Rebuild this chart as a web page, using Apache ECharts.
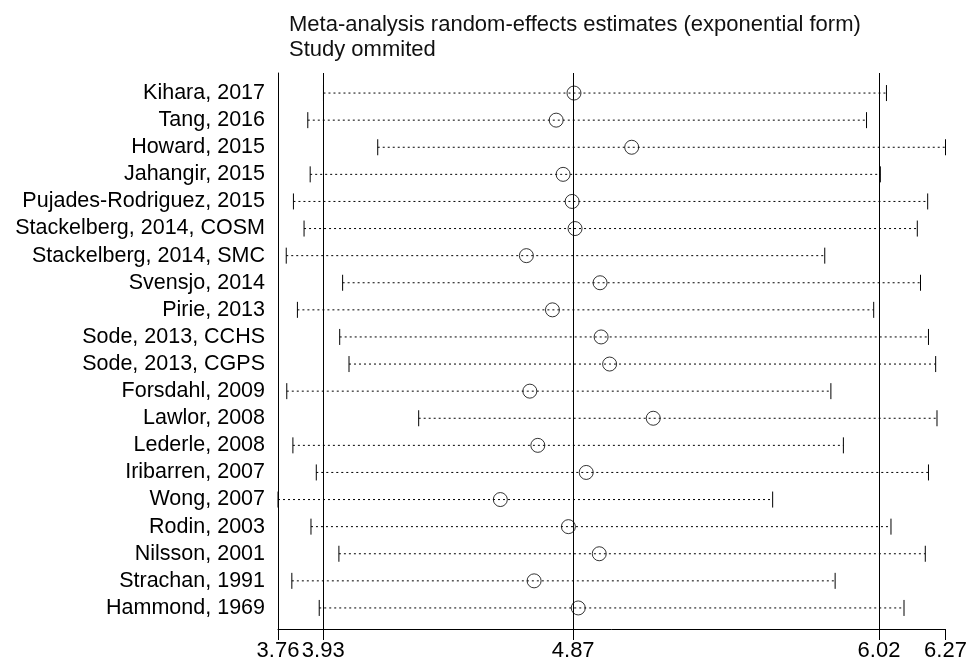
<!DOCTYPE html>
<html>
<head>
<meta charset="utf-8">
<script src="https://cdn.jsdelivr.net/npm/echarts@6/dist/echarts.min.js"></script>
<style>
  html, body { margin: 0; padding: 0; background: #fff; }
  #chart { width: 973px; height: 664px; }
</style>
</head>
<body>
<div id="chart"></div>
<script>
var studies = [
  'Kihara, 2017', 'Tang, 2016', 'Howard, 2015', 'Jahangir, 2015',
  'Pujades-Rodriguez, 2015', 'Stackelberg, 2014, COSM', 'Stackelberg, 2014, SMC',
  'Svensjo, 2014', 'Pirie, 2013', 'Sode, 2013, CCHS', 'Sode, 2013, CGPS',
  'Forsdahl, 2009', 'Lawlor, 2008', 'Lederle, 2008', 'Iribarren, 2007',
  'Wong, 2007', 'Rodin, 2003', 'Nilsson, 2001', 'Strachan, 1991', 'Hammond, 1969'
];
var estimate = [4.873, 4.806, 5.090, 4.832, 4.866, 4.877, 4.694, 4.971, 4.792, 4.975,
                5.007, 4.707, 5.171, 4.737, 4.919, 4.596, 4.852, 4.968, 4.723, 4.889];
var lower = [3.931, 3.872, 4.135, 3.881, 3.818, 3.858, 3.791, 4.003, 3.833, 3.992,
             4.027, 3.793, 4.289, 3.816, 3.904, 3.760, 3.884, 3.989, 3.812, 3.915];
var upper = [6.048, 5.973, 6.270, 6.025, 6.203, 6.164, 5.816, 6.176, 6.000, 6.206,
             6.233, 5.839, 6.238, 5.886, 6.206, 5.620, 6.065, 6.194, 5.855, 6.114];
var tickValues = [3.76, 3.93, 4.87, 6.02, 6.27];
var refLines = [3.93, 4.87, 6.02];

var chart = echarts.init(document.getElementById('chart'));

var barData = studies.map(function (s, i) { return [i, lower[i], upper[i]]; });
var pointData = studies.map(function (s, i) { return [estimate[i], i]; });

var option = {
  animation: false,
  textStyle: { fontFamily: 'Liberation Sans, Arial, sans-serif' },
  title: {
    text: 'Meta-analysis random-effects estimates (exponential form)\nStudy ommited',
    left: 284,
    top: 7,
    textStyle: { fontSize: 22, fontWeight: 'normal', color: '#111', lineHeight: 25 }
  },
  grid: [
    { left: 278, right: 27.5, top: 79.5, bottom: 42.5 },
    { left: 278, right: 27.5, top: 73, bottom: 35 }
  ],
  xAxis: [
    { gridIndex: 0, type: 'value', min: 3.76, max: 6.27, show: false },
    {
      gridIndex: 1, type: 'value', min: 3.76, max: 6.27,
      axisLine: { show: true, lineStyle: { color: '#000', width: 1 } },
      axisTick: { show: true, length: 11, customValues: tickValues, lineStyle: { color: '#000' } },
      axisLabel: {
        customValues: tickValues, color: '#000', fontSize: 22, margin: 11,
        formatter: function (v) { return v.toFixed(2); }
      },
      splitLine: { show: false }
    }
  ],
  yAxis: [
    {
      gridIndex: 0, type: 'category', data: studies, inverse: true,
      axisLine: { show: false }, axisTick: { show: false },
      axisLabel: { color: '#000', fontSize: 21.5, margin: 13, interval: 0 },
      splitLine: { show: false }
    },
    {
      gridIndex: 1, type: 'value', min: 0, max: 1,
      axisLine: { show: true, lineStyle: { color: '#000', width: 1 } },
      axisTick: { show: false }, axisLabel: { show: false }, splitLine: { show: false }
    }
  ],
  series: [
    {
      type: 'custom',
      xAxisIndex: 0, yAxisIndex: 0,
      data: barData,
      encode: { x: [1, 2], y: 0 },
      renderItem: function (params, api) {
        var i = api.value(0);
        var p1 = api.coord([api.value(1), i]);
        var p2 = api.coord([api.value(2), i]);
        var h = 8;
        return {
          type: 'group',
          children: [
            { type: 'line', shape: { x1: p1[0], y1: p1[1], x2: p2[0], y2: p2[1] },
              style: { stroke: '#000', lineWidth: 1, lineDash: [2, 3] } },
            { type: 'line', shape: { x1: p1[0], y1: p1[1] - h, x2: p1[0], y2: p1[1] + h },
              style: { stroke: '#000', lineWidth: 1 } },
            { type: 'line', shape: { x1: p2[0], y1: p2[1] - h, x2: p2[0], y2: p2[1] + h },
              style: { stroke: '#000', lineWidth: 1 } }
          ]
        };
      }
    },
    {
      type: 'scatter',
      xAxisIndex: 0, yAxisIndex: 0,
      data: pointData,
      symbol: 'circle',
      symbolSize: 14,
      itemStyle: { color: 'rgba(0,0,0,0)', borderColor: '#000', borderWidth: 1 },
      z: 3
    },
    {
      type: 'scatter',
      xAxisIndex: 1, yAxisIndex: 1,
      data: [[3.76, 0]],
      symbolSize: 0,
      silent: true,
      markLine: {
        symbol: 'none', silent: true,
        label: { show: false },
        lineStyle: { color: '#000', type: 'solid', width: 1 },
        data: refLines.map(function (v) { return { xAxis: v }; })
      }
    }
  ]
};
chart.setOption(option);
</script>
</body>
</html>
